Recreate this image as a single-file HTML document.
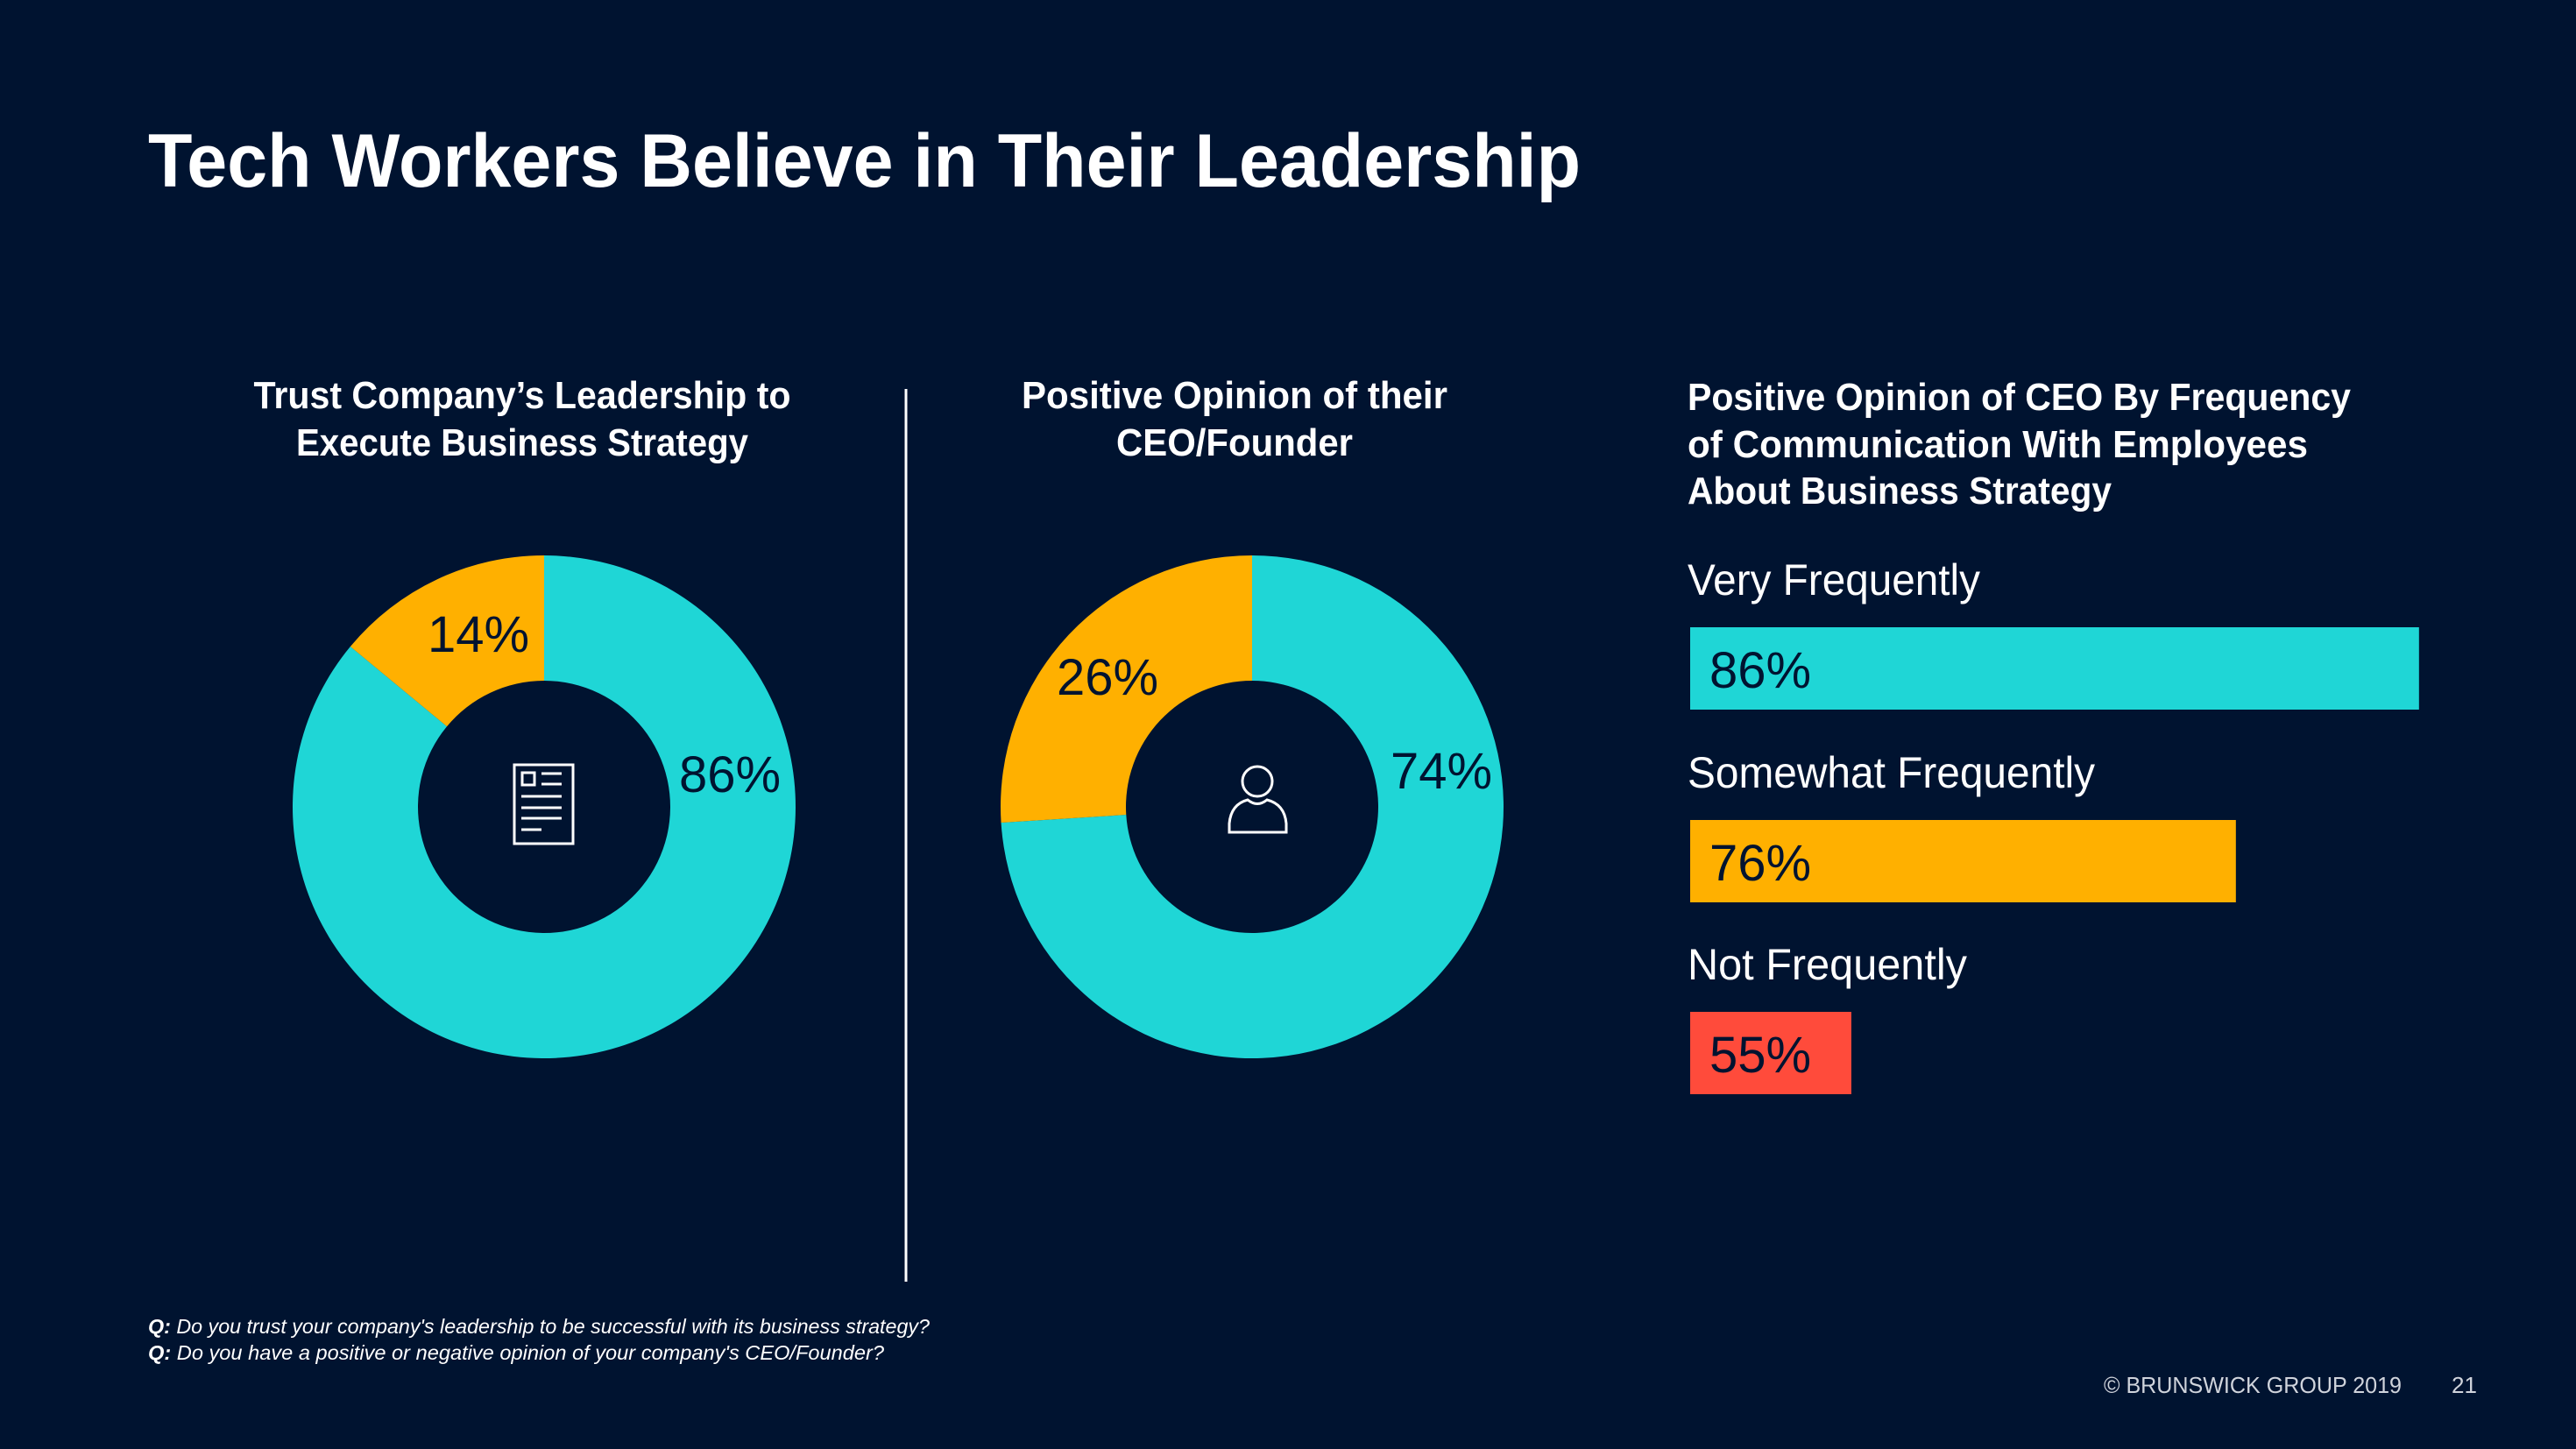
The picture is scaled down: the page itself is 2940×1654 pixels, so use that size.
<!DOCTYPE html>
<html><head><meta charset="utf-8"><style>
html,body{margin:0;padding:0;background:#001330;}
svg{display:block;font-family:"Liberation Sans",sans-serif;}
</style></head><body>
<svg id="chart" width="2940" height="1654" viewBox="0 0 2940 1654">
<rect width="2940" height="1654" fill="#001330"/>
<text x="169" y="213" font-size="86" font-weight="bold" fill="#fff" textLength="1635" lengthAdjust="spacingAndGlyphs">Tech Workers Believe in Their Leadership</text>

<g fill="#fff" font-size="44" font-weight="bold" text-anchor="middle">
<text x="596" y="466" textLength="613" lengthAdjust="spacingAndGlyphs">Trust Company’s Leadership to</text>
<text x="596" y="520" textLength="516" lengthAdjust="spacingAndGlyphs">Execute Business Strategy</text>
</g>
<g fill="#fff" font-size="44" font-weight="bold" text-anchor="middle">
<text x="1409" y="466" textLength="486" lengthAdjust="spacingAndGlyphs">Positive Opinion of their</text>
<text x="1409" y="520" textLength="270" lengthAdjust="spacingAndGlyphs">CEO/Founder</text>
</g>
<line x1="1034" y1="444" x2="1034" y2="1463" stroke="#fff" stroke-width="3"/>
<g fill="#fff" font-size="44" font-weight="bold">
<text x="1926" y="468" textLength="757" lengthAdjust="spacingAndGlyphs">Positive Opinion of CEO By Frequency</text>
<text x="1926" y="522" textLength="708" lengthAdjust="spacingAndGlyphs">of Communication With Employees</text>
<text x="1926" y="575" textLength="484" lengthAdjust="spacingAndGlyphs">About Business Strategy</text>
</g>
<g id="donuts"></g>
<g id="bars"></g>

<g stroke="#fff" stroke-width="3" fill="none">
<rect x="587" y="873" width="67" height="90"/>
<rect x="596" y="882" width="14" height="14"/>
<line x1="618" y1="883" x2="641" y2="883"/><line x1="618" y1="895" x2="641" y2="895"/>
<line x1="595" y1="909" x2="641" y2="909"/><line x1="595" y1="922" x2="641" y2="922"/>
<line x1="595" y1="934" x2="641" y2="934"/><line x1="595" y1="947" x2="618" y2="947"/>
</g>
<g stroke="#fff" stroke-width="3" fill="none">
<circle cx="1435" cy="892" r="17"/>
<path d="M1403 950 L1403 940 Q1405 918 1424 913 Q1435 922 1446 913 Q1466 918 1468 940 L1468 950 Z"/>
</g>

<g fill="#fff" font-size="23" font-style="italic">
<text x="169" y="1522" textLength="892" lengthAdjust="spacingAndGlyphs"><tspan font-weight="bold">Q:</tspan> Do you trust your company's leadership to be successful with its business strategy?</text>
<text x="169" y="1552" textLength="840" lengthAdjust="spacingAndGlyphs"><tspan font-weight="bold">Q:</tspan> Do you have a positive or negative opinion of your company's CEO/Founder?</text>
</g>
<text x="2741" y="1590" font-size="26" fill="#d0d4dc" text-anchor="end" textLength="340" lengthAdjust="spacingAndGlyphs">© BRUNSWICK GROUP 2019</text>
<text x="2798" y="1590" font-size="26" fill="#d0d4dc">21</text>
</svg>
<script>
const donutNames = ["trust-leadership", "ceo-opinion"];
const donutPositive = [86, 74];
const donutNegative = [14, 26];
const donutCenters = [[621, 921], [1429, 921]];
const posLabelPos = [[833, 904], [1645, 900]];
const negLabelPos = [[546, 744], [1264, 793]];

const barCategories = ["Very Frequently", "Somewhat Frequently", "Not Frequently"];
const barValues = [86, 76, 55];
const barColors = ["#1FD6D6", "#FFB000", "#FF4B3B"];
const labelWidths = [334, 465, 319];

const NS = "http://www.w3.org/2000/svg";
const TEAL = "#1FD6D6", ORANGE = "#FFB000", DARK = "#001330";
const R = 287, r = 144;

function arcPath(cx, cy, a0, a1) {
  const p = (a, rad) => [cx + rad * Math.sin(a * 2 * Math.PI), cy - rad * Math.cos(a * 2 * Math.PI)];
  const large = (a1 - a0) > 0.5 ? 1 : 0;
  const [x0, y0] = p(a0, R), [x1, y1] = p(a1, R), [x2, y2] = p(a1, r), [x3, y3] = p(a0, r);
  return `M${x0} ${y0} A${R} ${R} 0 ${large} 1 ${x1} ${y1} L${x2} ${y2} A${r} ${r} 0 ${large} 0 ${x3} ${y3} Z`;
}
const dg = document.getElementById("donuts");
donutPositive.forEach((v, i) => {
  const [cx, cy] = donutCenters[i];
  const tot = v + donutNegative[i];
  const s1 = document.createElementNS(NS, "path");
  s1.setAttribute("d", arcPath(cx, cy, 0, v / tot));
  s1.setAttribute("fill", TEAL);
  
  
  dg.appendChild(s1);
  const s2 = document.createElementNS(NS, "path");
  s2.setAttribute("d", arcPath(cx, cy, v / tot, 1));
  s2.setAttribute("fill", ORANGE);
  
  
  dg.appendChild(s2);
  [[v, posLabelPos[i], 'positive'], [donutNegative[i], negLabelPos[i], 'negative']].forEach(([val, pos, k]) => {
    const t = document.createElementNS(NS, "text");
    t.setAttribute("x", pos[0]); t.setAttribute("y", pos[1]);
    t.setAttribute("text-anchor", "middle");
    t.setAttribute("font-size", "58");
    t.setAttribute("fill", DARK);
    t.textContent = val + "%";
    
    
    dg.appendChild(t);
  });
});

const bx0 = 1929, xMin = 46.2, pxPer = 20.9;
const xScale = v => (v - xMin) * pxPer;
const barTop = [716, 936, 1155], barH = 94;
const bg = document.getElementById("bars");
barValues.forEach((v, i) => {
  const lab = document.createElementNS(NS, "text");
  lab.setAttribute("x", bx0 - 3); lab.setAttribute("y", barTop[i] - 37);
  lab.setAttribute("font-size", "50"); lab.setAttribute("fill", "#fff");
  lab.setAttribute("textLength", labelWidths[i]);
  lab.setAttribute("lengthAdjust", "spacingAndGlyphs");
  lab.textContent = barCategories[i];
  
  
  bg.appendChild(lab);
  const rect = document.createElementNS(NS, "rect");
  rect.setAttribute("x", bx0); rect.setAttribute("y", barTop[i]);
  rect.setAttribute("width", xScale(v)); rect.setAttribute("height", barH);
  rect.setAttribute("fill", barColors[i]);
  
  
  bg.appendChild(rect);
  const t = document.createElementNS(NS, "text");
  t.setAttribute("x", bx0 + 22); t.setAttribute("y", barTop[i] + 69);
  t.setAttribute("font-size", "58"); t.setAttribute("fill", DARK);
  t.textContent = v + "%";
  
  
  bg.appendChild(t);
});
</script>
</body></html>
